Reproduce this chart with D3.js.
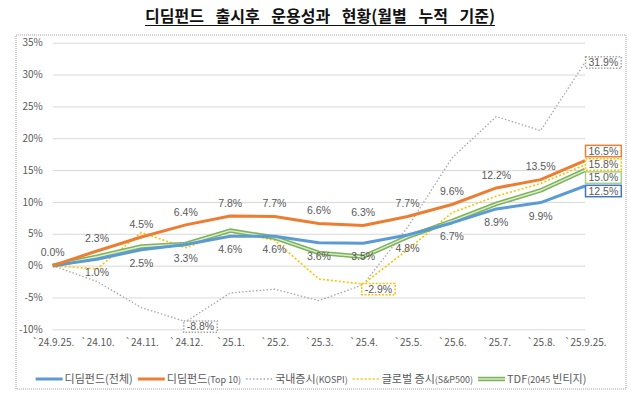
<!DOCTYPE html>
<html>
<head>
<meta charset="utf-8">
<script src="https://cdn.jsdelivr.net/npm/d3@7"></script>
<style>
  body { margin: 0; background: #fff; }
  text { font-family: "Noto Sans CJK KR", "Noto Sans", sans-serif; }
  .num { font-family: "Liberation Sans", Arial, sans-serif; }
</style>
</head>
<body>
<div id="chart"></div>
<script>
// 월별 누적 수익률 (%)
const months = ["`24.9.25.", "`24.10.", "`24.11.", "`24.12.", "`25.1.", "`25.2.", "`25.3.",
                "`25.4.", "`25.5.", "`25.6.", "`25.7.", "`25.8.", "`25.9.25."];
const fundAll   = [0, 1.0, 2.5, 3.3, 4.6, 4.6, 3.6, 3.5, 4.8, 6.7, 8.9, 9.9, 12.5];
const fundTop10 = [0, 2.3, 4.5, 6.4, 7.8, 7.7, 6.6, 6.3, 7.7, 9.6, 12.2, 13.5, 16.5];
const kospi     = [0, -2.5, -6.6, -8.8, -4.3, -3.7, -5.5, -3.0, 6.0, 16.9, 23.4, 21.2, 31.9];
const sp500     = [0, -0.5, 5.2, 2.8, 5.3, 4.0, -2.1, -2.9, 2.5, 8.3, 10.9, 12.9, 15.8];
const tdf       = [0, 1.4, 3.0, 3.4, 5.5, 4.4, 2.0, 1.4, 4.5, 7.0, 9.7, 11.8, 15.0];
const yTicks = d3.range(-10, 36, 5);

const width = 640, height = 394;
const grey = "#595959";

const svg = d3.select("#chart").append("svg")
  .attr("width", width)
  .attr("height", height)
  .attr("viewBox", [0, 0, width, height]);

// title
const title = svg.append("text")
  .attr("x", 320).attr("y", 22)
  .attr("text-anchor", "middle")
  .attr("font-size", 16).attr("font-weight", 700)
  .attr("word-spacing", 8)
  .attr("fill", "#111")
  .text("디딤펀드 출시후 운용성과 현황(월별 누적 기준)");
const tb = title.node().getBBox();
svg.append("line")
  .attr("x1", tb.x).attr("x2", tb.x + tb.width)
  .attr("y1", 25.5).attr("y2", 25.5)
  .attr("stroke", "#111").attr("stroke-width", 1.2);

// chart area border
svg.append("rect")
  .attr("x", 16).attr("y", 35).attr("width", 610).attr("height", 354)
  .attr("fill", "none").attr("stroke", "#a0a0a0")
  .attr("stroke-dasharray", "1,1");

const x = d3.scalePoint().domain(months).range([52.7, 585]);
const y = d3.scaleLinear().domain([-10, 35]).range([329.3, 42.7]);

// grid
svg.append("g")
  .attr("transform", "translate(52.7,0)")
  .call(d3.axisLeft(y).tickValues(yTicks).tickSize(-(585 - 52.7)).tickFormat(""))
  .call(g => g.select(".domain").remove())
  .call(g => g.selectAll("line").attr("stroke", "#d9d9d9"));

// y labels
svg.append("g")
  .attr("transform", "translate(52.7,0)")
  .call(d3.axisLeft(y).tickValues(yTicks).tickSize(0).tickPadding(10).tickFormat(d => d + "%"))
  .call(g => g.select(".domain").remove())
  .call(g => g.selectAll("text").attr("fill", grey).attr("font-size", 10)
    .style("font-family", '"Noto Sans CJK KR", sans-serif'));

// x labels
svg.append("g")
  .attr("transform", "translate(0,329.3)")
  .call(d3.axisBottom(x).tickSize(0).tickPadding(10))
  .call(g => g.select(".domain").remove())
  .call(g => g.selectAll("text").attr("fill", grey).attr("font-size", 10)
    .style("font-family", '"Noto Sans CJK KR", sans-serif'));

const line = d3.line().x((d, i) => x(months[i])).y(d => y(d));

const series = [
  { name: "디딤펀드", sub: "(전체)", small: false, values: fundAll, color: "#5b9bd5", width: 3, box: "#4472c4", endDy: 5 },
  { name: "디딤펀드", sub: "(Top 10)", small: true, values: fundTop10, color: "#ed7d31", width: 3, box: "#ed7d31", endDy: -9.5 },
  { name: "국내증시", sub: "(KOSPI)", small: true, values: kospi, color: "#a6a6a6", width: 1.3, dash: "1.5,2", box: "#a6a6a6", boxDash: "1.5,1.5", endDy: 0 },
  { name: "글로벌 증시", sub: "(S&P500)", small: true, values: sp500, color: "#ffc000", width: 1.6, dash: "2,2", box: "#ffc000", boxDash: "2,1.5", endDy: -0.5 },
  { name: "TDF", sub: "(2045 ", tail: "빈티지)", small: true, values: tdf, color: "#7db35a", inner: "#dcedd1", width: 4.5, box: "#a9d18e", endDy: 7.5 }
];

function drawLine(sel, s, d) {
  sel.append("path").attr("d", d).attr("fill", "none")
    .attr("stroke", s.color).attr("stroke-width", s.width)
    .attr("stroke-dasharray", s.dash || null)
    .attr("stroke-linejoin", "round");
  if (s.inner) {
    sel.append("path").attr("d", d).attr("fill", "none")
      .attr("stroke", s.inner).attr("stroke-width", 1.4)
      .attr("stroke-linejoin", "round");
  }
}

// draw order like Excel: later series on top
const order = [2, 3, 4, 0, 1];
order.forEach(k => drawLine(svg.append("g"), series[k], line(series[k].values)));

const fmt = d => d.toFixed(1) + "%";
const labels = svg.append("g").attr("class", "num").attr("font-size", 10.5).attr("fill", grey);

// orange labels above, blue labels below
fundTop10.slice(0, 12).forEach((v, i) => {
  labels.append("text").attr("class", "num").attr("x", x(months[i])).attr("y", y(v) - 13)
    .attr("text-anchor", "middle").attr("dy", "0.35em").text(fmt(v));
});
fundAll.slice(1, 12).forEach((v, i) => {
  labels.append("text").attr("class", "num").attr("x", x(months[i + 1])).attr("y", y(v) + 13.5)
    .attr("text-anchor", "middle").attr("dy", "0.35em").text(fmt(v));
});

function boxLabel(x0, cy, v, stroke, dash) {
  const g = svg.append("g");
  const t = g.append("text").attr("class", "num").attr("font-size", 10.5).attr("fill", grey)
    .attr("dy", "0.35em").attr("y", cy).text(fmt(v));
  const w = t.node().getComputedTextLength() + 6;
  t.attr("x", x0 + w / 2).attr("text-anchor", "middle");
  g.insert("rect", "text")
    .attr("x", x0).attr("y", cy - 5.7).attr("width", w).attr("height", 11.4)
    .attr("fill", "#fff").attr("stroke", stroke).attr("stroke-width", 1.5)
    .attr("stroke-dasharray", dash || null);
}

const last = months.length - 1;
series.forEach(s => boxLabel(x(months[last]) + 0.5, y(s.values[last]) + s.endDy, s.values[last], s.box, s.boxDash));
boxLabel(x(months[3]) - 2, y(kospi[3]) + 5, kospi[3], "#a6a6a6", "1.5,1.5");
boxLabel(x(months[7]) - 1.5, y(sp500[7]) + 5, sp500[7], "#ffc000", "2,1.5");

// legend
const legend = svg.append("g");
let lx = 0;
series.forEach(s => {
  const g = legend.append("g");
  drawLine(g, s, "M0,0H27");
  const t = g.append("text").attr("x", 29).attr("dy", "0.35em").attr("fill", grey).attr("font-size", 11);
  t.append("tspan").text(s.name);
  t.append("tspan").attr("font-size", s.small ? 9 : 11).text(s.sub);
  if (s.tail) t.append("tspan").attr("font-size", 11).text(s.tail);
  const w = 29 + t.node().getComputedTextLength();
  g.attr("transform", `translate(${lx},0)`);
  lx += w + 5;
});
const total = lx - 5;
legend.attr("transform", `translate(${311 - total / 2},379)`);
</script>
</body>
</html>
